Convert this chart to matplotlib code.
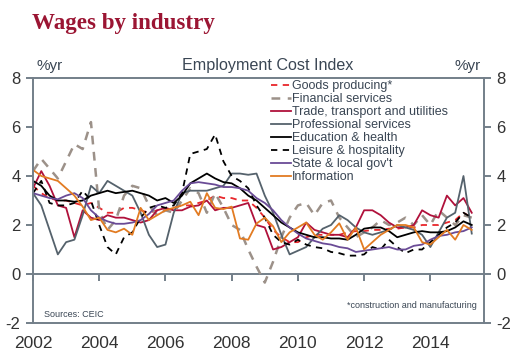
import matplotlib
matplotlib.use("Agg")
import matplotlib.pyplot as plt
import numpy as np

# ---- data (quarterly, % y/y) ----
start_year = 2002.0
goods = [3.6, 3.3, 3.1, 3.0, 3.0, 2.9, 2.8, 2.9, 2.7, 2.5, 2.5, 2.7, 2.7, 2.6, 2.5, 2.6,
         2.6, 2.7, 2.8, 2.8, 2.9, 3.0, 3.2, 3.1, 3.1, 3.0, 3.0, 2.7, 2.3, 1.8, 1.5, 1.3,
         1.3, 1.5, 1.6, 1.6, 1.6, 1.6, 1.7, 1.75, 1.75, 1.8, 1.8, 1.85, 1.85, 1.9, 1.9, 2.0,
         2.0, 2.0, 2.1, 2.2, 2.5, 2.3]
financial = [4.2, 4.7, 4.3, 3.9, 4.6, 5.3, 5.1, 6.2, 2.6, 1.8, 2.2, 3.2, 3.6, 3.5, 2.8, 2.4,
             2.6, 2.5, 3.0, 3.5, 3.3, 2.5, 3.3, 2.7, 2.0, 1.8, 1.0, 0.3, -0.35, 0.5, 1.5, 2.3,
             2.8, 2.9, 2.4, 2.9, 3.0, 2.3, 1.9, 1.5, 1.7, 1.9, 2.2, 2.0, 2.1, 2.3, 2.0, 2.4,
             2.0, 2.6, 2.3, 2.0, 2.4, 2.3]
trade = [3.5, 4.2, 3.6, 2.8, 2.7, 1.5, 2.6, 2.3, 2.2, 2.4, 2.3, 2.3, 2.2, 2.1, 2.2, 2.6,
         2.7, 2.6, 2.6, 2.75, 2.8, 3.0, 2.6, 2.7, 2.7, 2.8, 2.9, 2.0, 1.9, 1.0, 1.1, 1.3,
         1.5, 2.1, 1.8, 1.7, 1.6, 1.6, 1.5, 1.9, 2.6, 2.6, 2.4, 2.1, 1.9, 1.9, 2.0, 2.6,
         2.4, 2.3, 3.2, 2.8, 3.1, 2.5]
professional = [3.3, 2.8, 1.8, 0.8, 1.3, 1.4, 2.4, 3.6, 3.3, 3.8, 3.6, 3.4, 3.2, 2.5, 1.6, 1.1,
                1.2, 2.5, 3.3, 3.4, 3.4, 3.4, 3.5, 3.6, 4.1, 4.1, 4.05, 4.1, 3.2, 2.5, 1.6, 0.8,
                0.95, 1.1, 1.5, 1.85, 2.0, 2.4, 2.2, 1.9, 1.7, 1.6, 1.7, 1.8, 2.0, 1.9, 1.8, 1.6,
                1.1, 1.7, 2.3, 2.5, 4.0, 1.65]
education = [3.8, 3.6, 3.2, 3.0, 3.0, 2.95, 3.0, 3.2, 3.3, 3.4, 3.3, 3.35, 3.4, 3.3, 3.2, 3.0,
             3.1, 2.9, 3.2, 3.7, 3.9, 4.1, 3.9, 3.75, 3.7, 3.5, 3.2, 3.0, 2.7, 2.4, 2.1, 1.9,
             1.7, 1.6, 1.5, 1.5, 1.45, 1.45, 1.4, 1.6, 1.85, 1.9, 1.9, 1.75, 1.5, 1.6, 1.7, 1.75,
             1.7, 1.7, 1.75, 1.9, 2.15, 2.0]
leisure = [3.3, 3.8, 2.9, 2.8, 2.8, 2.9, 3.4, 3.0, 2.0, 1.1, 0.8, 1.5, 1.7, 2.3, 2.7, 2.8,
           2.7, 2.8, 3.3, 4.9, 5.0, 5.1, 5.7, 4.6, 4.0, 3.8, 3.5, 2.8, 2.3, 1.6, 1.3, 1.2,
           1.4, 1.2, 1.1, 1.05, 0.9, 0.85, 0.75, 0.75, 0.8, 1.1, 1.0, 1.4, 1.1, 0.85, 1.0, 1.0,
           1.3, 1.6, 1.9, 2.1, 2.5, 2.3]
state_local = [3.3, 3.2, 3.1, 3.05, 3.2, 3.3, 3.1, 2.6, 2.3, 2.15, 2.05, 2.05, 2.1, 2.2, 2.45, 2.8,
               2.9, 3.0, 3.4, 3.7, 3.75, 3.7, 3.65, 3.55, 3.55, 3.5, 3.4, 3.1, 2.9, 2.6, 2.2, 1.9,
               1.65, 1.45, 1.35, 1.25, 1.2, 1.1, 1.05, 0.9, 0.95, 1.0, 1.05, 1.1, 1.0, 1.0, 1.15, 1.2,
               1.4, 1.55, 1.6, 1.7, 1.75, 1.9]
information = [4.25, 4.0, 3.9, 3.8, 3.5, 3.2, 2.75, 2.2, 2.3, 1.8, 1.7, 1.85, 1.6, 2.7, 2.2, 2.4,
               2.6, 2.7, 2.8, 2.95, 2.4, 3.3, 2.7, 2.65, 2.75, 1.45, 1.4, 2.06, 2.3, 1.95, 1.3, 1.7,
               1.9, 2.1, 1.6, 1.4, 1.7, 2.07, 1.4, 1.9, 1.0, 1.3, 1.6, 1.8, 2.0, 2.0, 1.9, 1.3,
               1.2, 1.5, 1.8, 1.4, 2.0, 1.8]

series_labels = ["Goods producing*", "Financial services", "Trade, transport and utilities",
                 "Professional services", "Education & health", "Leisure & hospitality",
                 "State & local gov't", "Information"]
x_ticks = [2002, 2004, 2006, 2008, 2010, 2012, 2014]
y_ticks = [-2, 0, 2, 4, 6, 8]

dates = start_year + 0.25 * np.arange(len(goods))

AX = "#737f89"
TXT = "#3a4654"
FONT = "Liberation Sans"

fig = plt.figure(figsize=(5.21, 3.54), dpi=100)
ax = fig.add_axes([33 / 521, 1 - 323 / 354, (484 - 33) / 521, (323 - 78) / 354])

lw = 1.3
styles = [
    (goods, dict(color="#e8262b", ls=(0, (3.5, 3)), lw=lw)),
    (financial, dict(color="#9c9189", ls=(0, (3.5, 3)), lw=1.8)),
    (trade, dict(color="#b0113b", ls="-", lw=lw)),
    (professional, dict(color="#55626c", ls="-", lw=lw)),
    (education, dict(color="#000000", ls="-", lw=lw)),
    (leisure, dict(color="#000000", ls=(0, (3.5, 3)), lw=lw)),
    (state_local, dict(color="#6a4b96", ls="-", lw=lw)),
    (information, dict(color="#e27b22", ls="-", lw=lw)),
]
for (vals, kw), lab in zip(styles, series_labels):
    ax.plot(dates, vals, label=lab, **kw)

ax.set_xlim(2002, 2015.62)
ax.set_ylim(-2, 8)
for s in ["left", "right", "top", "bottom"]:
    ax.spines[s].set_color(AX)
    ax.spines[s].set_linewidth(1.4)

ax.set_yticks(y_ticks)
ax.set_yticklabels([str(v) for v in y_ticks], family=FONT)
ax.tick_params(axis="y", direction="out", length=5, width=1.4, color=AX,
               labelsize=12, labelcolor="#333333", left=True, right=True,
               labelleft=True, labelright=True, pad=4)
ax.set_xticks(x_ticks)
ax.set_xticklabels([str(v) for v in x_ticks], family=FONT)
ax.tick_params(axis="x", length=0, labelsize=12.5, labelcolor="#333333", pad=9)

# zero line with tick marks
sec = ax.secondary_xaxis(0.2)
sec.spines["bottom"].set_color(AX)
sec.spines["bottom"].set_linewidth(1.4)
sec.set_xticks(x_ticks)
sec.tick_params(axis="x", direction="out", length=5, width=1.4, color=AX, labelbottom=False)

ax.text(0.008, 1.02, "%yr", transform=ax.transAxes, ha="left", va="bottom",
        fontsize=11, color=TXT, family=FONT)
ax.text(0.992, 1.02, "%yr", transform=ax.transAxes, ha="right", va="bottom",
        fontsize=11, color=TXT, family=FONT)
ax.text(0.52, 1.02, "Employment Cost Index", transform=ax.transAxes, ha="center",
        va="bottom", fontsize=11.6, color=TXT, family=FONT)

fig.text(32 / 521, 1 - 29 / 354, "Wages by industry", ha="left", va="baseline",
         fontsize=16.6, fontweight="bold", color="#9b1533", family="Liberation Serif")

ax.text(0.025, 0.015, "Sources: CEIC", transform=ax.transAxes, ha="left", va="bottom",
        fontsize=6.5, color=TXT, family=FONT)
ax.text(0.985, 0.055, "*construction and manufacturing", transform=ax.transAxes,
        ha="right", va="bottom", fontsize=6.5, color=TXT, family=FONT)

leg = ax.legend(loc="upper left", bbox_to_anchor=(0.527, 0.99), frameon=False,
                handlelength=1.65, handletextpad=0.05, labelspacing=0.08,
                borderaxespad=0, borderpad=0, prop={"family": FONT, "size": 9})
for t in leg.get_texts():
    t.set_color(TXT)

fig.savefig("out.png", dpi=100)
